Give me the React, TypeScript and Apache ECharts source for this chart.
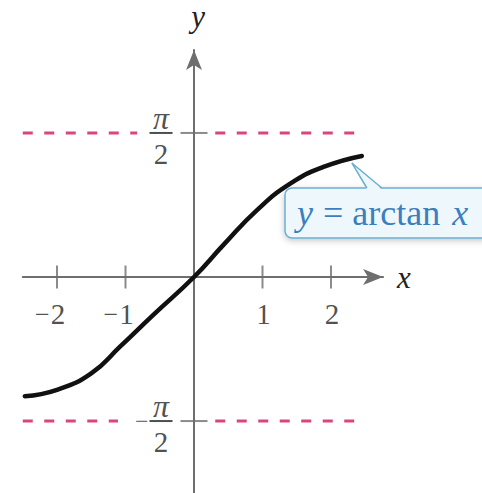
import React, { useEffect, useRef } from "react";
import * as echarts from "echarts";

// Curve points
const curveX = [-2.47, -2.0, -1.5, -1.08, -0.59, 0, 0.43, 0.92, 1.41, 1.89, 2.45];
const curveY = [-1.3, -1.23, -1.05, -0.76, -0.41, 0, 0.35, 0.73, 1.02, 1.2, 1.32];

// Axis ticks and labels
const xTicks = [-2, -1, 1, 2];
const xTickLabels = ["−2", "−1", "1", "2"];
const asymptotes = [1.5708, -1.5708];
const asymptoteSigns = ["", "−"];

// Dashed asymptote segments (x extents), broken around the labels
const upperDashX = [[-2.5, -0.83], [0.31, 2.35]];
const lowerDashX = [[-2.5, -1.11], [0.31, 2.35]];

const curveLabel = "y = arctan x";

const SERIF = "'Liberation Serif', 'Times New Roman', serif";
const AXIS_COLOR = "#6e6e6e";
const TEXT_COLOR = "#222222";
const DASH_COLOR = "#d9467f";

export default function App() {
  const ref = useRef<HTMLDivElement>(null);

  useEffect(() => {
    if (!ref.current) return;
    const chart = echarts.init(ref.current, undefined, { renderer: "svg" });

    const xMin = -2.5, xMax = 2.76, yMin = -2.4, yMax = 2.475;
    const ox = 194, oy = 277, ux = 68.5, uy = 91.7;

    const dashSeries: any[] = [];
    [upperDashX, lowerDashX].forEach((segs, k) => {
      segs.forEach((s) => {
        dashSeries.push({
          type: "line",
          data: [[s[0], asymptotes[k]], [s[1], asymptotes[k]]],
          symbol: "none",
          silent: true,
          lineStyle: { color: DASH_COLOR, width: 3, type: [10, 11.5] },
          z: 1,
        });
      });
    });

    const FS = 29;
    const tokenBase = { fontFamily: SERIF, fontSize: FS, color: TEXT_COLOR };

    const option: any = {
      animation: false,
      textStyle: { fontFamily: SERIF },
      grid: {
        left: ox + xMin * ux,
        right: 482 - (ox + xMax * ux),
        top: oy - yMax * uy,
        bottom: 493 - (oy - yMin * uy),
        containLabel: false,
        outerBoundsMode: "none",
      },
      xAxis: {
        type: "value",
        min: xMin,
        max: xMax,
        splitLine: { show: false },
        axisTick: { show: false },
        axisLabel: { show: false },
        axisLine: {
          onZero: true,
          lineStyle: { color: AXIS_COLOR, width: 2 },
          symbol: ["none", "arrow"],
          symbolSize: [12, 20],
        },
        name: "x",
        nameLocation: "end",
        nameGap: 14,
        nameTextStyle: { fontFamily: SERIF, fontStyle: "italic", fontSize: 31, color: TEXT_COLOR },
      },
      yAxis: {
        type: "value",
        min: yMin,
        max: yMax,
        splitLine: { show: false },
        axisTick: { show: false },
        axisLabel: { show: false },
        axisLine: {
          onZero: true,
          lineStyle: { color: AXIS_COLOR, width: 2 },
          symbol: ["none", "arrow"],
          symbolSize: [12, 20],
        },
        name: "y",
        nameLocation: "end",
        nameGap: 18,
        nameTextStyle: {
          fontFamily: SERIF,
          fontStyle: "italic",
          fontSize: 31,
          color: TEXT_COLOR,
          padding: [0, 0, 0, 8],
        },
      },
      series: [
        ...dashSeries,
        {
          type: "scatter",
          data: xTicks.map((v) => [v, 0]),
          symbol: "rect",
          symbolSize: [2, 23],
          itemStyle: { color: AXIS_COLOR },
          silent: true,
          z: 3,
          label: {
            show: true,
            position: "inside",
            offset: [1, 37],
            align: "center",
            verticalAlign: "middle",
            ...tokenBase,
            formatter: (p: any) => {
              const s = xTickLabels[p.dataIndex];
              if (s.startsWith("−")) return `{m|−}{d|${s.slice(1)}}{h|−}`;
              return `{d|${s}}`;
            },
            rich: {
              d: { ...tokenBase },
              m: { ...tokenBase, fontSize: 26, padding: [0, 1, 0, 0] },
              h: { ...tokenBase, fontSize: 26, color: "transparent", padding: [0, 0, 0, 1] },
            },
          },
        },
        {
          type: "scatter",
          data: asymptotes.map((v) => [0, v]),
          symbol: "rect",
          symbolSize: [27, 2],
          itemStyle: { color: AXIS_COLOR },
          silent: true,
          z: 3,
          label: {
            show: true,
            position: "inside",
            offset: [-33, 0],
            align: "center",
            verticalAlign: "middle",
            padding: [12, 0, 0, 0],
            ...tokenBase,
            formatter: (p: any) => {
              const sign = asymptoteSigns[p.dataIndex];
              const mid = sign ? `{m|${sign}}{b|}{h|${sign}}` : "{b|}";
              return `{p|π}\n${mid}\n{d|2}`;
            },
            rich: {
              p: { ...tokenBase, fontStyle: "italic", fontSize: 32, lineHeight: 28 },
              b: { width: 23, height: 2, lineHeight: 2, backgroundColor: TEXT_COLOR },
              m: { ...tokenBase, fontSize: 24, lineHeight: 2, padding: [0, 1, 0, 0] },
              h: { ...tokenBase, fontSize: 24, lineHeight: 2, color: "transparent", padding: [0, 0, 0, 1] },
              d: { ...tokenBase, lineHeight: 40 },
            },
          },
        },
        {
          type: "line",
          data: curveX.map((x, i) => [x, curveY[i]]),
          smooth: true,
          symbol: "none",
          silent: true,
          lineStyle: { color: "#111111", width: 4.5, cap: "round" },
          z: 5,
        },
      ],
    };
    chart.setOption(option);

    // Callout pointing at the curve's right end
    const end = chart.convertToPixel({ gridIndex: 0 }, [curveX[curveX.length - 1], curveY[curveY.length - 1]]) as number[];
    const tip = [end[0] - 10, end[1] + 7];
    const boxX = 285, boxY = 188, boxH = 50;
    const fill = "#eef8fc";
    const stroke = "#6aaed2";
    const tokenC = { fontFamily: SERIF, fontSize: 36, fill: "#3b7fc0" };
    chart.setOption({
      graphic: [
        {
          type: "rect",
          z: 20,
          shape: { x: boxX, y: boxY, width: 220, height: boxH, r: 7 },
          style: {
            fill,
            stroke,
            lineWidth: 1.5,
            shadowBlur: 6,
            shadowColor: "rgba(0,0,0,0.22)",
            shadowOffsetY: 2,
          },
        },
        {
          type: "polygon",
          z: 21,
          shape: { points: [[tip[0] + 15, boxY + 1.5], tip, [tip[0] + 30, boxY + 1.5]] },
          style: { fill, stroke: "none" },
        },
        {
          type: "polyline",
          z: 22,
          shape: { points: [[tip[0] + 15, boxY], tip, [tip[0] + 30, boxY]] },
          style: { fill: "none", stroke, lineWidth: 1.5 },
        },
        {
          type: "text",
          z: 23,
          x: 297,
          y: boxY + boxH / 2,
          style: {
            text: "{i|y}{e|=}{n|arctan}{i|x}",
            verticalAlign: "middle",
            rich: {
              i: { ...tokenC, fontStyle: "italic" },
              e: { ...tokenC, padding: [0, 9, 0, 10] },
              n: { ...tokenC, padding: [0, 12, 0, 0] },
            },
          },
        },
      ],
    });

    return () => chart.dispose();
  }, []);

  return (
    <div
      ref={ref}
      aria-label={curveLabel}
      style={{ position: "fixed", left: 0, top: 0, width: 482, height: 493, background: "#fff" }}
    />
  );
}
